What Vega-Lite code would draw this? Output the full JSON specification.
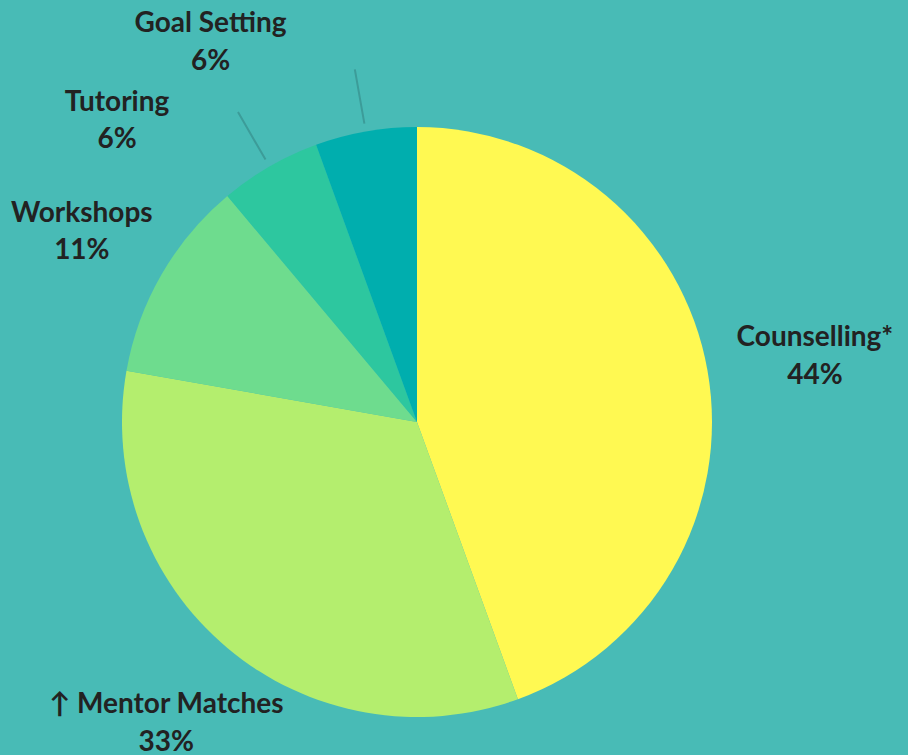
{
  "$schema": "https://vega.github.io/schema/vega-lite/v6.json",
  "width": 834,
  "height": 666,
  "autosize": {"type": "none"},
  "padding": {"left": 0, "top": 89, "right": 74, "bottom": 0},
  "background": "#48BBB6",
  "config": {"view": {"stroke": null}},
  "data": {
    "values": [
      {"idx": 1, "cat": "Counselling", "value": 8, "label": "Counselling*\n44%"},
      {"idx": 2, "cat": "Mentor Matches", "value": 6, "label": "↑ Mentor Matches\n33%"},
      {"idx": 3, "cat": "Workshops", "value": 2, "label": "Workshops\n11%"},
      {"idx": 4, "cat": "Tutoring", "value": 1, "label": "Tutoring\n6%"},
      {"idx": 5, "cat": "Goal Setting", "value": 1, "label": "Goal Setting\n6%"}
    ]
  },
  "encoding": {
    "theta": {"field": "value", "type": "quantitative", "stack": true},
    "order": {"field": "idx", "type": "quantitative"}
  },
  "layer": [
    {
      "mark": {"type": "arc", "outerRadius": 295, "stroke": null},
      "encoding": {
        "color": {
          "field": "cat",
          "type": "nominal",
          "legend": null,
          "scale": {
            "domain": ["Counselling", "Mentor Matches", "Workshops", "Tutoring", "Goal Setting"],
            "range": ["#FFF952", "#B4EE6E", "#6EDC8E", "#2DC79F", "#00AEAE"]
          }
        }
      }
    },
    {
      "mark": {"type": "arc", "innerRadius": 303, "outerRadius": 358, "padAngle": 1.5, "fill": "transparent", "stroke": "#3C9C99", "strokeWidth": 2, "strokeCap": "round"},
      "encoding": {
        "strokeOpacity": {
          "condition": {"test": "datum.cat == 'Tutoring' || datum.cat == 'Goal Setting'", "value": 1},
          "value": 0
        }
      }
    },
    {
      "mark": {"type": "text", "radius": 402, "dx": 2, "dy": -14, "font": "Lato", "fontWeight": "bold", "fontSize": 28, "color": "#222222", "lineBreak": "\n", "lineHeight": 38, "align": "center", "baseline": "middle"},
      "encoding": {"text": {"condition": {"test": "datum.cat == 'Counselling'", "field": "label"}, "value": ""}}
    },
    {
      "mark": {"type": "text", "radius": 390, "dy": -16, "font": "Lato", "fontWeight": "bold", "fontSize": 28, "color": "#222222", "lineBreak": "\n", "lineHeight": 38, "align": "center", "baseline": "middle"},
      "encoding": {"text": {"condition": {"test": "datum.cat == 'Mentor Matches'", "field": "label"}, "value": ""}}
    },
    {
      "mark": {"type": "text", "radius": 387, "dy": -15, "font": "Lato", "fontWeight": "bold", "fontSize": 28, "color": "#222222", "lineBreak": "\n", "lineHeight": 37, "align": "center", "baseline": "middle"},
      "encoding": {"text": {"condition": {"test": "datum.cat == 'Workshops'", "field": "label"}, "value": ""}}
    },
    {
      "mark": {"type": "text", "radius": 400, "dx": -100, "dy": 27, "font": "Lato", "fontWeight": "bold", "fontSize": 28, "color": "#222222", "lineBreak": "\n", "lineHeight": 37, "align": "center", "baseline": "middle"},
      "encoding": {"text": {"condition": {"test": "datum.cat == 'Tutoring'", "field": "label"}, "value": ""}}
    },
    {
      "mark": {"type": "text", "radius": 400, "dx": -137, "dy": -4, "font": "Lato", "fontWeight": "bold", "fontSize": 28, "color": "#222222", "lineBreak": "\n", "lineHeight": 38, "align": "center", "baseline": "middle"},
      "encoding": {"text": {"condition": {"test": "datum.cat == 'Goal Setting'", "field": "label"}, "value": ""}}
    }
  ]
}
